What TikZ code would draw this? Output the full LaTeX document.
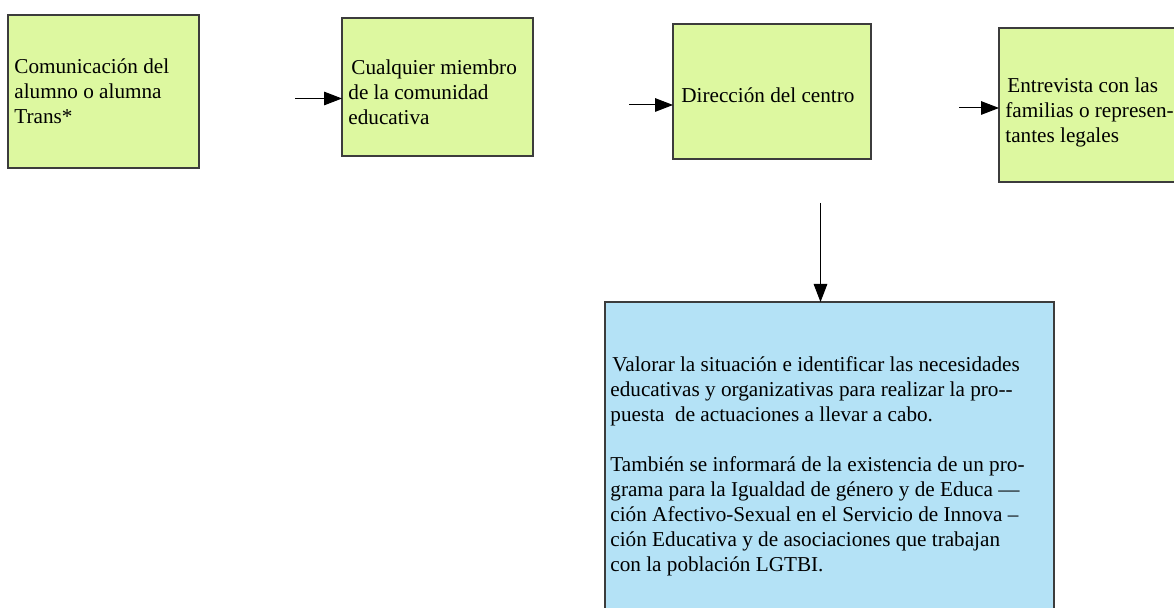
\documentclass[tikz,border=0pt]{standalone}
\usepackage{fontspec}
\setmainfont{Liberation Serif}
\usetikzlibrary{arrows.meta}

\definecolor{verde}{RGB}{221,248,160}
\definecolor{celeste}{RGB}{180,226,246}
\definecolor{borde}{RGB}{60,60,60}

\begin{document}
\begin{tikzpicture}[x=0.5pt,y=-0.5pt,
  caja/.style={draw=borde,line width=0.6pt,outer sep=0pt,inner sep=0pt},
  cajaverde/.style={caja,fill=verde},
  cajaazul/.style={caja,fill=celeste},
  texto/.style={anchor=base west,inner sep=0pt,align=left,
    font=\fontsize{10.6}{12.5}\selectfont},
  flecha/.style={line width=0.5pt,-{Triangle[length=9pt,width=6.8pt]}}]
\useasboundingbox (0,0) rectangle (1174,608);
\clip (0,0) rectangle (1174,608);

\node[cajaverde,minimum width=95.5pt,minimum height=76.5pt] (b1) at (103.5,91.5) {};
\node[cajaverde,minimum width=95.5pt,minimum height=69pt] (b2) at (437.5,87) {};
\node[cajaverde,minimum width=99pt,minimum height=67.5pt] (b3) at (772,91.5) {};
\node[cajaverde,minimum width=95.5pt,minimum height=77pt] (b4) at (1094.5,105) {};
\node[cajaazul,minimum width=224.5pt,minimum height=169pt] (bv) at (829.5,471) {};

\node[texto] (t1) at (14,124) {Comunicación del\\alumno o alumna\\Trans*};
\node[texto] (t2) at (348,125) {\hspace{1.5pt}Cualquier miembro\\de la comunidad\\educativa};
\node[texto] (t3) at (681,103) {Dirección del centro};
\node[texto] (t4) at (1005,143) {\hspace{1pt}Entrevista con las\\familias o represen-\\tantes legales};
\node[texto] (t5) at (610,572) {\hspace{1pt}Valorar la situación e identificar las necesidades\\
educativas y organizativas para realizar la pro-{}-\\
puesta\ \ de actuaciones a llevar a cabo.\\[12.5pt]
También se informará de la existencia de un pro-\\
grama para la Igualdad de género y de Educa —\\
ción Afectivo-Sexual en el Servicio de Innova –\\
ción Educativa y de asociaciones que trabajan\\
con la población LGTBI.};

\coordinate (s1) at (295,98.5);
\coordinate (s2) at (629,105);
\coordinate (s3) at (959,108);
\coordinate (s4) at (820.5,203);

\draw[flecha] (s1) -- (s1 -| b2.west);
\draw[flecha] (s2) -- (s2 -| b3.west);
\draw[flecha] (s3) -- (s3 -| b4.west);
\draw[flecha] (s4) -- (s4 |- bv.north);

\end{tikzpicture}
\end{document}
